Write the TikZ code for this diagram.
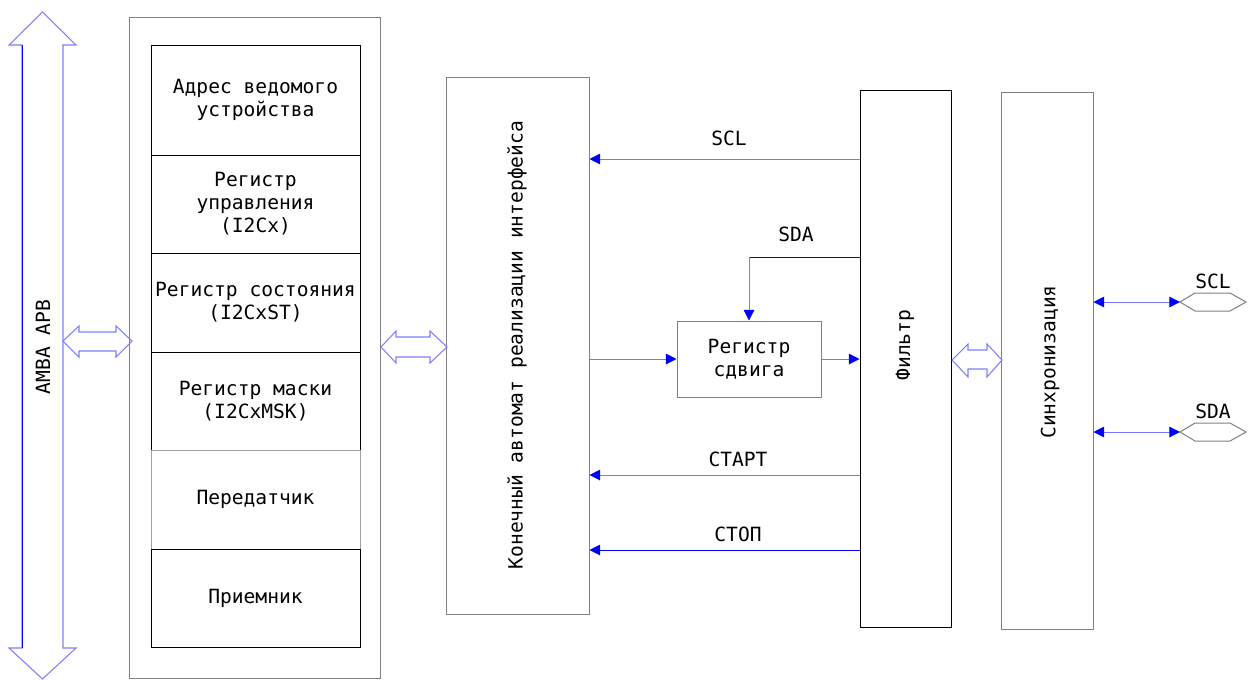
\documentclass[tikz,border=0pt]{standalone}
\usepackage{fontspec}
\setmainfont{DejaVu Sans Mono}
\usetikzlibrary{arrows.meta}
\definecolor{bus}{RGB}{0,0,255}
\definecolor{lbus}{RGB}{120,120,255}
\definecolor{pale}{RGB}{128,128,255}
\definecolor{frame}{RGB}{128,128,128}
\definecolor{lframe}{RGB}{160,160,160}

\begin{document}
\begin{tikzpicture}[x=0.75pt,y=-0.75pt,
  every node/.style={font=\fontsize{14.7}{17.3}\selectfont, inner sep=0pt, align=center},
  rbox/.style 2 args={draw=black, line width=0.75pt, minimum width=#1*0.75pt, minimum height=#2*0.75pt},
  sig/.style={draw=lbus, line width=0.75pt, -{Triangle[length=8pt,width=8pt,color=bus]}},
  ssig/.style={draw=bus, line width=0.75pt, -{Triangle[length=8pt,width=8pt,color=bus]}},
  hollow/.style={draw=pale, line width=0.8pt, line join=miter},
  pin/.style={draw=frame, line width=0.75pt}]

\useasboundingbox (0,0) rectangle (1248,679);

% AMBA APB bus
\draw[hollow] (22,45) -- (9,45) -- (42.5,12) -- (76,45) -- (63,45) -- (63,648)
  -- (76,648) -- (42.5,679) -- (9,648) -- (22,648) -- cycle;
\draw[bus, line width=0.75pt] (22,45) -- (22,648);
\node[rotate=90] (apb) at (43,347) {AMBA APB};

% register block
\node[rbox={251}{661}, draw=frame] (regs) at (254.5,347.5) {};
\node[rbox={209}{110}] (r1) at (255.5,100) {Адрес ведомого\\устройства};
\node[rbox={209}{98}]  (r2) at (255.5,204) {Регистр\\управления\\(I2Cx)};
\node[rbox={209}{99}]  (r3) at (255.5,302.5) {Регистр состояния\\(I2CxST)};
\node[rbox={209}{98}]  (r4) at (255.5,401) {Регистр маски\\(I2CxMSK)};
\node[rbox={209}{99}, draw=lframe] (r5) at (255.5,499.5) {Передатчик};
\node[rbox={209}{98}]  (r6) at (255.5,598) {Приемник};

% interface state machine, filter, synchronisation
\node[rbox={143}{537}, draw=frame] (fsm) at (517.5,345.5) {};
\node[rotate=90] (fsmtxt) at (517,345) {Конечный автомат реализации интерфейса};
\node[rbox={91}{537}] (flt) at (905.5,358.5) {};
\node[rotate=90] (flttxt) at (905,345) {Фильтр};
\node[rbox={92}{537}, draw=frame] (sync) at (1047,360.5) {};
\node[rotate=90] (synctxt) at (1050,362) {Синхронизация};
\node[rbox={144}{76}, draw=frame] (shift) at (749,359) {Регистр\\сдвига};

% hollow bus arrows between blocks
\draw[hollow] (63,341) -- (79,326) -- (79,332) -- (116,332) -- (116,326) -- (132,341)
  -- (116,357) -- (116,351) -- (79,351) -- (79,357) -- cycle;
\draw[hollow] (381,347) -- (396,331) -- (396,337) -- (430,337) -- (430,331) -- (447,347)
  -- (430,363) -- (430,357) -- (396,357) -- (396,363) -- cycle;
\draw[hollow] (952,360) -- (968,344) -- (968,350) -- (987,350) -- (987,344) -- (1002,360)
  -- (987,377) -- (987,369) -- (968,369) -- (968,377) -- cycle;

% signals from the filter
\draw[sig] (flt.west |- 0,159) -- (fsm.east |- 0,159);
\node (scl) at (729,138) {SCL};
\draw[bus, line width=0.75pt] (flt.west |- 0,257) -- (shift.north |- 0,257);
\draw[sig] (shift.north |- 0,257) -- (shift.north);
\node (sda) at (796,234) {SDA};
\draw[sig] (fsm.east |- shift.west) -- (shift.west);
\draw[sig] (shift.east) -- (flt.west |- shift.east);
\draw[sig] (flt.west |- 0,475) -- (fsm.east |- 0,475);
\node (start) at (738,459) {СТАРТ};
\draw[ssig] (flt.west |- 0,550) -- (fsm.east |- 0,550);
\node (stop) at (738,534) {СТОП};

% external pins
\coordinate (sclpin) at (1180,302);
\coordinate (sdapin) at (1180,432);
\draw[pin] (sclpin) -- ++(15,-9) -- ++(35,0) -- ++(16,9) -- ++(-16,9) -- ++(-35,0) -- cycle;
\draw[pin] (sdapin) -- ++(15,-9) -- ++(35,0) -- ++(16,9) -- ++(-16,9) -- ++(-35,0) -- cycle;
\draw[draw=lbus, line width=0.75pt, {Triangle[length=8pt,width=8pt,color=bus]}-{Triangle[length=8pt,width=8pt,color=bus]}]
  (sync.east |- sclpin) -- (sclpin);
\draw[draw=lbus, line width=0.75pt, {Triangle[length=8pt,width=8pt,color=bus]}-{Triangle[length=8pt,width=8pt,color=bus]}]
  (sync.east |- sdapin) -- (sdapin);
\node (sclname) at (1213,281) {SCL};
\node (sdaname) at (1213,411) {SDA};
\end{tikzpicture}
\end{document}
